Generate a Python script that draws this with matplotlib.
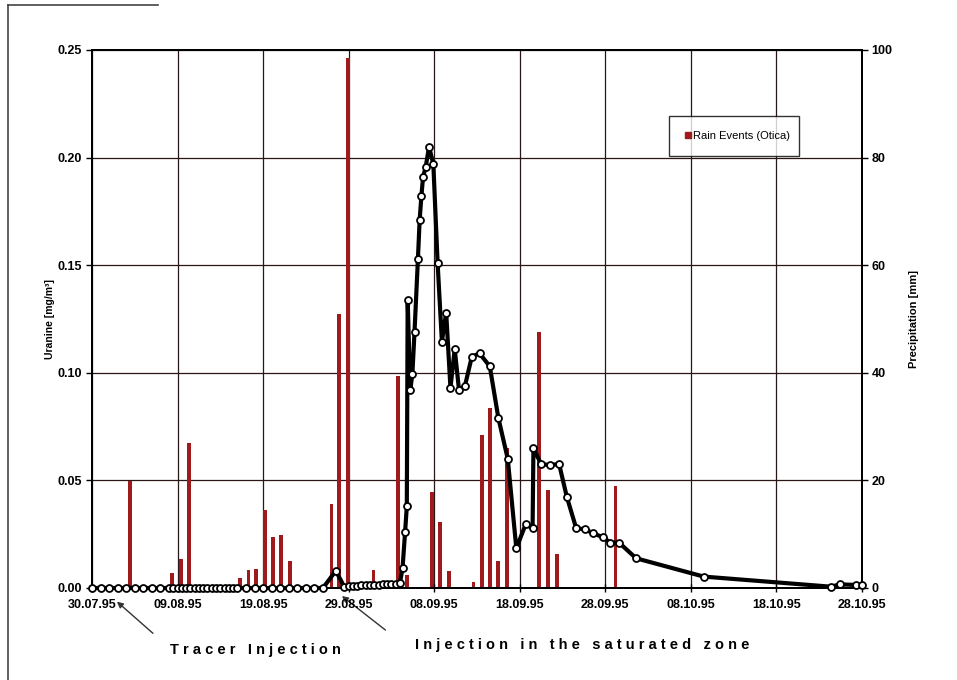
import matplotlib
matplotlib.use('Agg')
import matplotlib.pyplot as plt
from matplotlib.lines import Line2D
from matplotlib.patches import FancyArrowPatch

plt.rcParams['font.family'] = ['Liberation Sans', 'DejaVu Sans']

# days counted from 30.07.95
tick_days = [0, 10, 20, 30, 40, 50, 60, 70, 80, 90]
tick_labels = ['30.07.95', '09.08.95', '19.08.95', '29.08.95', '08.09.95',
               '18.09.95', '28.09.95', '08.10.95', '18.10.95', '28.10.95']

# rain events (Otica), mm
rain_day = [4.4, 9.4, 10.4, 11.3, 17.3, 18.3, 19.2, 20.2, 21.2, 22.1, 23.1,
            28.0, 28.9, 29.9, 32.9, 35.8, 36.8, 39.7, 40.7, 41.7, 44.6, 45.6,
            46.5, 47.5, 48.5, 52.3, 53.3, 54.4, 61.2]
rain_mm = [19.8, 2.8, 5.4, 26.9, 1.9, 3.3, 3.6, 14.5, 9.4, 9.9, 5.0,
           15.7, 51.0, 98.5, 3.3, 39.4, 2.4, 17.9, 12.2, 3.1, 1.2, 28.4,
           33.4, 5.1, 26.0, 47.5, 18.3, 6.3, 19.0]

# uranine concentration, mg/m3
ura_day = [0, 1, 2, 3, 4, 5, 6, 7, 8, 9, 9.5, 10, 10.5, 11, 11.5, 12, 12.5,
           13, 13.5, 14, 14.5, 15, 15.5, 16, 16.5, 17, 18, 19, 20, 21, 22,
           23, 24, 25, 26, 27, 28.5, 29.5, 30, 30.5, 31, 31.5, 32, 32.5, 33,
           33.5, 34, 34.5, 35, 35.5, 36.0, 36.3, 36.6, 36.8, 36.9, 37.2,
           37.45, 37.7, 38.1, 38.3, 38.5, 38.7, 39.0, 39.4, 39.9, 40.4, 40.9,
           41.4, 41.9, 42.4, 42.9, 43.6, 44.4, 45.3, 46.5, 47.5, 48.6, 49.6,
           50.7, 51.5, 51.6, 52.5, 53.5, 54.6, 55.5, 56.6, 57.6, 58.6, 59.7,
           60.6, 61.6, 63.6, 71.5, 86.4, 87.4, 89.3, 90.0]
ura_conc = [0, 0, 0, 0, 0, 0, 0, 0, 0, 0, 0, 0, 0, 0, 0, 0, 0,
            0, 0, 0, 0, 0, 0, 0, 0, 0, 0, 0, 0, 0, 0,
            0, 0, 0, 0, 0, 0.008, 0.0005, 0.001, 0.001, 0.001, 0.0012, 0.0012,
            0.0013, 0.0015, 0.0015, 0.0017, 0.0018, 0.0018, 0.002, 0.0025,
            0.0092, 0.026, 0.038, 0.134, 0.092, 0.0994, 0.119, 0.153, 0.171,
            0.182, 0.191, 0.1955, 0.205, 0.197, 0.151, 0.1145, 0.128, 0.093,
            0.111, 0.092, 0.094, 0.1075, 0.109, 0.103, 0.079, 0.060, 0.0184,
            0.0297, 0.0277, 0.0649, 0.0576, 0.0571, 0.0576, 0.0424, 0.0277,
            0.0273, 0.0254, 0.0236, 0.0211, 0.0211, 0.0138, 0.0053, 0.0006,
            0.0017, 0.0014, 0.0014]

fig = plt.figure(figsize=(9.57, 6.8), dpi=100, facecolor='white')
ax = fig.add_axes([0.0961, 0.1353, 0.8046, 0.7912])
ax2 = ax.twinx()

# rain bars behind, concentration line in front
ax.set_zorder(ax2.get_zorder() + 1)
ax.patch.set_visible(False)

grid_col = '#2a1616'
bar_red = '#9e1a1c'
ax2.set_axisbelow(True)
ax2.grid(True, axis='y', color=grid_col, lw=0.9)
for d in tick_days:
    ax2.axvline(d, color=grid_col, lw=0.9, zorder=1)
ax2.bar(rain_day, rain_mm, width=0.45, color=bar_red, zorder=2)
ax2.set_ylim(0, 100)
ax2.set_yticks([0, 20, 40, 60, 80, 100])

ax.plot(ura_day, ura_conc, color='black', lw=3.0, marker='o', ms=5.0,
        mfc='white', mec='black', mew=1.3, zorder=5, clip_on=False)
ax.set_xlim(0, 90)
ax.set_ylim(0, 0.25)
ax.set_yticks([0, 0.05, 0.10, 0.15, 0.20, 0.25])
ax.set_yticklabels(['%.2f' % v for v in [0, 0.05, 0.10, 0.15, 0.20, 0.25]])
ax.set_xticks(tick_days)
ax.set_xticklabels(tick_labels)

for a in (ax, ax2):
    for s in a.spines.values():
        s.set_color('black')
        s.set_linewidth(1.4)
    a.tick_params(labelsize=9, width=1, length=4, color='black', pad=3)
    for lab in a.get_xticklabels() + a.get_yticklabels():
        lab.set_fontweight('bold')
ax.tick_params(axis='x', direction='inout', length=6, pad=5)

ax.set_ylabel('Uranine [mg/m³]', fontsize=7.5, fontweight='bold')
ax.yaxis.set_label_coords(-0.048, 0.5)
ax2.set_ylabel('Precipitation [mm]', fontsize=8, fontweight='bold', labelpad=12)

leg_handle = Line2D([], [], marker='s', ls='none', color=bar_red, ms=5)
leg = ax2.legend([leg_handle], ['Rain Events (Otica)'], loc='upper left',
                 bbox_to_anchor=(0.742, 0.814, 0.184, 0.074), mode='expand',
                 fontsize=8, frameon=True, fancybox=False, borderpad=1.35,
                 handletextpad=0.05, handlelength=0.8)
leg.get_frame().set_edgecolor('black')
leg.get_frame().set_linewidth(1.0)

# annotations below the axis
fig.text(0.2665, 0.044, 'T r a c e r   I n j e c t i o n', ha='center',
         va='center', fontsize=10.5, fontweight='bold')
fig.text(0.608, 0.052, 'I n j e c t i o n   i n   t h e   s a t u r a t e d   z o n e',
         ha='center', va='center', fontsize=10.5, fontweight='bold')
arrow = dict(arrowstyle='-|>', color='#333333', lw=1.0, mutation_scale=9)
fig.add_artist(FancyArrowPatch((0.162, 0.066), (0.120, 0.118),
                               transform=fig.transFigure, **arrow))
fig.add_artist(FancyArrowPatch((0.405, 0.071), (0.355, 0.126),
                               transform=fig.transFigure, **arrow))

# scanned page frame
fig.add_artist(Line2D([0.008, 0.008], [0.0, 0.992], color='#444444', lw=1.2,
                      transform=fig.transFigure))
fig.add_artist(Line2D([0.008, 0.165], [0.992, 0.992], color='#444444', lw=1.2,
                      transform=fig.transFigure))

fig.savefig('out.png', dpi=100)
